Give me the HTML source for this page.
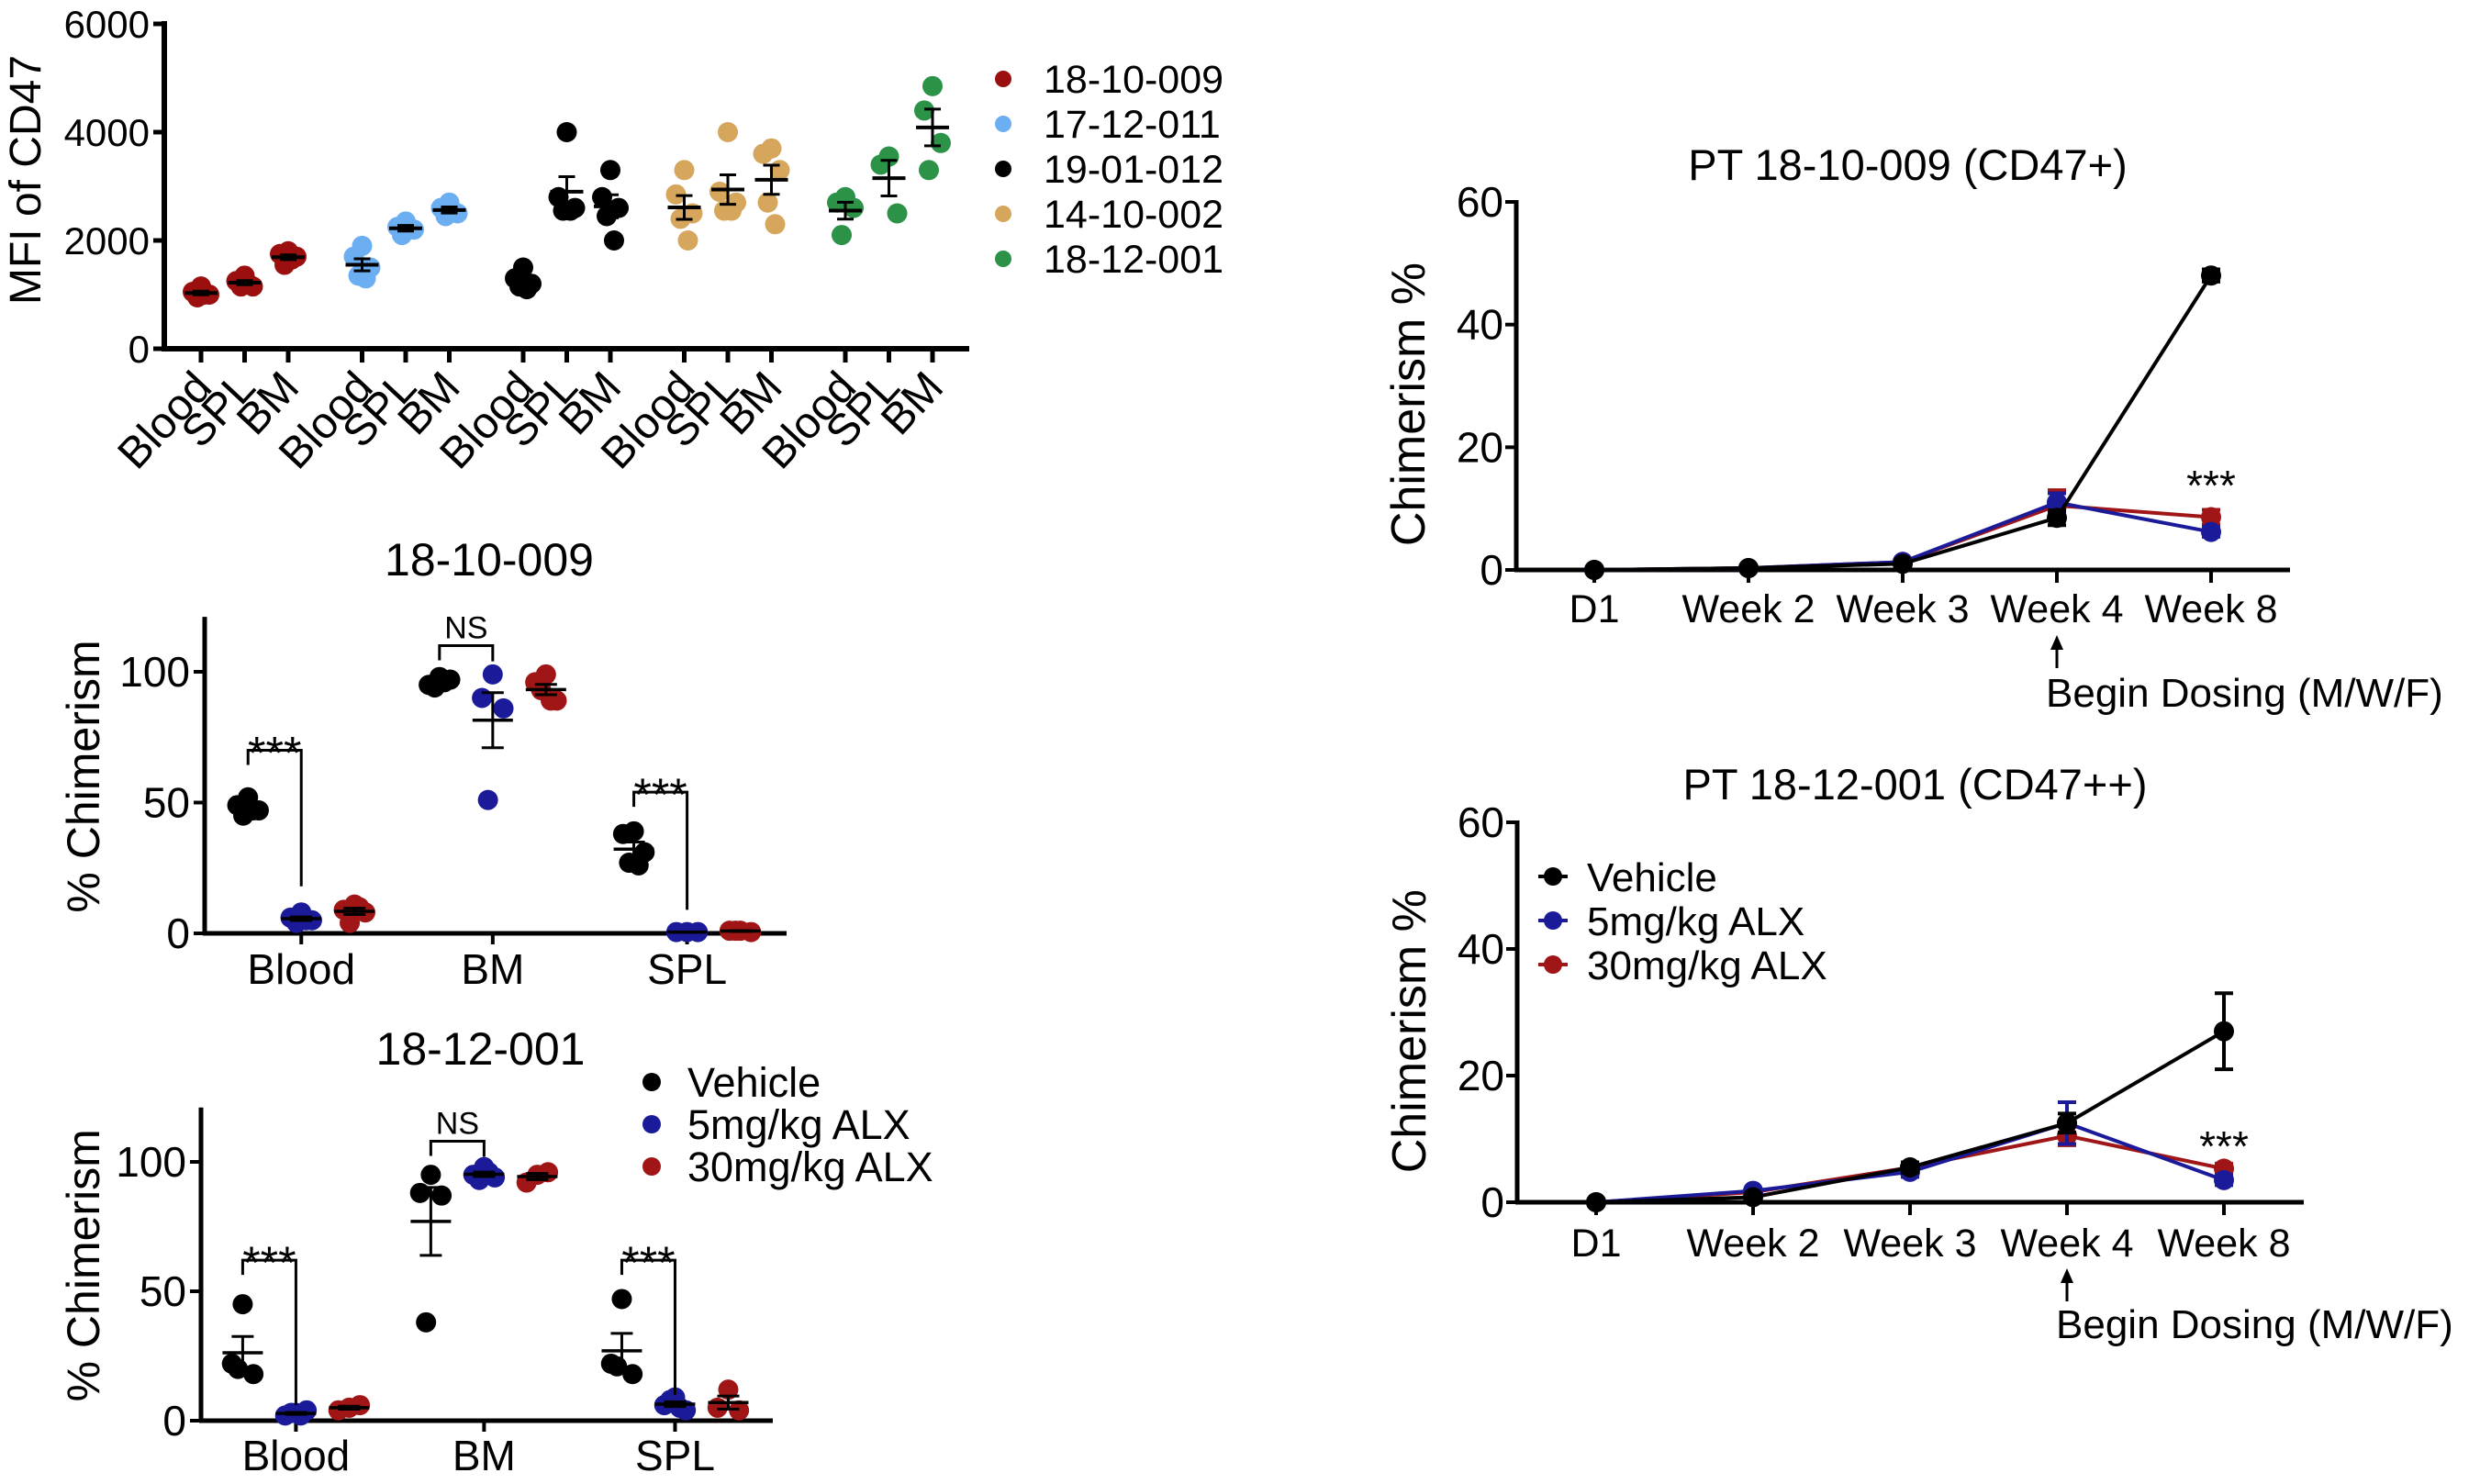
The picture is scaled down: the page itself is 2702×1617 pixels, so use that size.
<!DOCTYPE html>
<html><head><meta charset="utf-8">
<style>
html,body{margin:0;padding:0;background:#fff;}
svg{display:block;font-family:"Liberation Sans",Arial,sans-serif;}
</style></head>
<body>
<svg id="fig" width="2702" height="1617" viewBox="0 0 2702 1617" xmlns="http://www.w3.org/2000/svg">
<rect width="2702" height="1617" fill="#fff"/>
</svg>
<script>
// ===== Panel A: MFI of CD47 =====
const mfiPatients = ["18-10-009","17-12-011","19-01-012","14-10-002","18-12-001"];
const mfiColors = ["#9b0f0f","#6caef2","#000000","#d5a65c","#2b9247"];
const mfiTissues = ["Blood","SPL","BM"];
const mfiTicks = [0,2000,4000,6000];
const mfiRed = [[1150,1050,1000,950,1000],[1350,1250,1150,1150,1200],[1800,1750,1700,1550,1650]];
const mfiBlue = [[1900,1700,1500,1350,1300],[2350,2250,2200,2100],[2700,2600,2500,2450]];
const mfiBlack = [[1500,1300,1200,1150,1100],[4000,2800,2600,2550,2550],[3300,2800,2600,2450,2000]];
const mfiTan = [[3300,2850,2500,2400,2000],[4000,2900,2700,2550,2550],[3700,3600,3300,2700,2300]];
const mfiGreen = [[2800,2700,2600,2100],[3550,3400,2500],[4850,4400,3800,3300]];

// ===== Panel B: 18-10-009 chimerism =====
const chimCats = ["Blood","BM","SPL"];
const chimGroups = ["Vehicle","5mg/kg ALX","30mg/kg ALX"];
const chimColors = ["#000000","#1b1b9a","#a01616"];
const chimTicks = [0,50,100];
const p1Vehicle = [[52,49,47,45,47],[98,95,97,94,96],[39,38,31,27,26]];
const p1Low = [[8,6,5,4,5],[99,90,86,51],[0.5,0.5,0.5]];
const p1High = [[11,9,8,4,10],[99,96,89,93,89],[1,1,0.5,1]];
const p1Sig = [{cat:0,label:"***",y:70,drop:18},{cat:1,label:"NS",y:110,drop:104},{cat:2,label:"***",y:54,drop:9}];

// ===== Panel C: 18-12-001 chimerism =====
const p2Vehicle = [[45,22,18,20],[95,88,87,38],[47,22,18,21]];
const p2Low = [[3,2,4,3,2],[98,95,94,93,96],[9,6,4,8,5]];
const p2High = [[5,4,6],[95,92,96],[12,5,4]];
const p2Sig = [{cat:0,label:"***",y:62,drop:6},{cat:1,label:"NS",y:108,drop:102},{cat:2,label:"***",y:62,drop:10}];

// ===== Panels D/E: time course =====
const timeCats = ["D1","Week 2","Week 3","Week 4","Week 8"];
const timeTicks = [0,20,40,60];
const lineNames = ["Vehicle","5mg/kg ALX","30mg/kg ALX"];
const d1Vehicle = [0,0.3,1.0,8.5,48];
const d1VehicleErr = [0.2,0.2,0.3,1.2,1.0];
const d1Low = [0,0.3,1.3,11,6.2];
const d1LowErr = [0.2,0.2,0.3,1.5,0.8];
const d1High = [0,0.3,1.3,10.5,8.6];
const d1HighErr = [0.2,0.2,0.3,2.5,1.2];
const d2Vehicle = [0,0.8,5.5,12.5,27];
const d2VehicleErr = [0.3,0.3,0.8,1.5,6];
const d2Low = [0,1.8,4.8,12.5,3.5];
const d2LowErr = [0.3,0.4,0.8,3.3,0.8];
const d2High = [0,1.6,5.5,10.5,5.3];
const d2HighErr = [0.3,0.3,0.6,1.5,0.8];

const NS = "http://www.w3.org/2000/svg";
const svg = document.getElementById('fig');
function el(tag, attrs, parent, txt){
  const e = document.createElementNS(NS, tag);
  for (const k in attrs) e.setAttribute(k, attrs[k]);
  if (txt !== undefined) e.textContent = txt;
  (parent||svg).appendChild(e);
  return e;
}
function grp(name){
  const g = document.createElementNS(NS,'g');
  
  
  svg.appendChild(g);
  return g;
}
function mean(a){return a.reduce((s,v)=>s+v,0)/a.length;}
function sem(a){const m=mean(a);if(a.length<2)return 0;const sd=Math.sqrt(a.reduce((s,v)=>s+(v-m)*(v-m),0)/(a.length-1));return sd/Math.sqrt(a.length);}
const jitter = [0,-9,9,-4,4,-12,12];

// ---------- Panel A ----------
(function(){
  const g = grp('mfi-chart');
  const x0=179, x1=1056, yb=380, yt=26;
  const ys = v => yb - v*(yb-yt)/6000;
  const xs = (p,t) => 219 + p*175.5 + t*47.5;
  let ax = el('line',{x1:x0,y1:yt-3,x2:x0,y2:yb,stroke:'#000','stroke-width':6},g);
   
  ax = el('line',{x1:x0-3,y1:yb,x2:x1,y2:yb,stroke:'#000','stroke-width':6},g);
   
  mfiTicks.forEach(v=>{
    el('line',{x1:x0-12,y1:ys(v),x2:x0,y2:ys(v),stroke:'#000','stroke-width':5},g);
    const t = el('text',{x:x0-16,y:ys(v)+15,'text-anchor':'end','font-size':42},g,String(v));
     
  });
  const yl = el('text',{x:0,y:0,transform:'translate(44,196) rotate(-90)','text-anchor':'middle','font-size':48},g,'MFI of CD47');
   
  const all = [mfiRed,mfiBlue,mfiBlack,mfiTan,mfiGreen];
  all.forEach((pat,p)=>{
    pat.forEach((pts,t)=>{
      const cx = xs(p,t);
      el('line',{x1:cx,y1:yb,x2:cx,y2:yb+15,stroke:'#000','stroke-width':5},g);
      const lb = el('text',{x:0,y:0,transform:`translate(${cx+14},${yb+44}) rotate(-47)`,'text-anchor':'end','font-size':48},g,mfiTissues[t]);
       
      pts.forEach((v,i)=>{
        const c = el('circle',{cx:cx+jitter[i%jitter.length],cy:ys(v),r:11,fill:mfiColors[p]},g);
         
      });
      const m=mean(pts), s=sem(pts);
      const mb = el('line',{x1:cx-18,y1:ys(m),x2:cx+18,y2:ys(m),stroke:'#000','stroke-width':4},g);
       
      el('line',{x1:cx,y1:ys(m+s),x2:cx,y2:ys(m-s),stroke:'#000','stroke-width':3},g);
      el('line',{x1:cx-9,y1:ys(m+s),x2:cx+9,y2:ys(m+s),stroke:'#000','stroke-width':3},g);
      el('line',{x1:cx-9,y1:ys(m-s),x2:cx+9,y2:ys(m-s),stroke:'#000','stroke-width':3},g);
    });
  });
  const lg = grp('mfi-legend');
  mfiPatients.forEach((n,i)=>{
    const y = 86 + i*49;
    const c = el('circle',{cx:1093,cy:y,r:9,fill:mfiColors[i]},lg);
     
    const t = el('text',{x:1137,y:y+15,'font-size':43},lg,n);
     
  });
})();

// ---------- Panels B/C ----------
function chimPanel(name, title, titleY, ax0, ax1, yb, unit, series, sig, labY){
  const g = grp(name);
  const ys = v => yb - v*unit;
  const cxs = [ax0 + 0.166*(ax1-ax0), ax0 + 0.5*(ax1-ax0)-0.005*(ax1-ax0), ax0 + 0.829*(ax1-ax0)];
  const off = [-58,0,58];
  const tt = el('text',{x:(ax0+ax1)/2-7,y:titleY,'text-anchor':'middle','font-size':50},g,title);
   
  let a = el('line',{x1:ax0,y1:ys(121),x2:ax0,y2:yb,stroke:'#000','stroke-width':5},g);
   
  a = el('line',{x1:ax0-2,y1:yb,x2:ax1,y2:yb,stroke:'#000','stroke-width':5},g);
   
  chimTicks.forEach(v=>{
    el('line',{x1:ax0-12,y1:ys(v),x2:ax0,y2:ys(v),stroke:'#000','stroke-width':4},g);
    const t = el('text',{x:ax0-16,y:ys(v)+16,'text-anchor':'end','font-size':46},g,String(v));
     
  });
  const yl = el('text',{x:0,y:0,transform:`translate(108,${ys(60)}) rotate(-90)`,'text-anchor':'middle','font-size':50},g,'% Chimerism');
   
  chimCats.forEach((c,ci)=>{
    const cx = cxs[ci];
    el('line',{x1:cx,y1:yb,x2:cx,y2:yb+12,stroke:'#000','stroke-width':4},g);
    const t = el('text',{x:cx,y:labY,'text-anchor':'middle','font-size':46},g,c);
     
    series.forEach((ser,si)=>{
      const pts = ser[ci]; const gx = cx+off[si];
      pts.forEach((v,i)=>{
        const p = el('circle',{cx:gx+jitter[i%jitter.length]*1.3,cy:ys(v),r:11,fill:chimColors[si]},g);
         
      });
      const m=mean(pts), s=sem(pts);
      const mb = el('line',{x1:gx-22,y1:ys(m),x2:gx+22,y2:ys(m),stroke:'#000','stroke-width':3.5},g);
       
      el('line',{x1:gx,y1:ys(m+s),x2:gx,y2:ys(m-s),stroke:'#000','stroke-width':3},g);
      el('line',{x1:gx-12,y1:ys(m+s),x2:gx+12,y2:ys(m+s),stroke:'#000','stroke-width':3},g);
      el('line',{x1:gx-12,y1:ys(m-s),x2:gx+12,y2:ys(m-s),stroke:'#000','stroke-width':3},g);
    });
  });
  sig.forEach(s=>{
    const xa = cxs[s.cat]+off[0], xb = cxs[s.cat]+off[1];
    const y = ys(s.y);
    const b = el('polyline',{points:`${xa},${y+16} ${xa},${y} ${xb},${y} ${xb},${ys(s.drop)}`,fill:'none',stroke:'#000','stroke-width':3},g);
     
    const t = el('text',{x:(xa+xb)/2,y:s.label==='NS'?y-8:y+20,'text-anchor':'middle','font-size':s.label==='NS'?34:50},g,s.label);
     
  });
}
chimPanel('chimerism-18-10-009','18-10-009',627,223,857,1017,2.85,[p1Vehicle,p1Low,p1High],p1Sig,1072);
chimPanel('chimerism-18-12-001','18-12-001',1160,219,842,1548,2.82,[p2Vehicle,p2Low,p2High],p2Sig,1602);
(function(){
  const lg = grp('chimerism-legend');
  chimGroups.forEach((n,i)=>{
    const y = 1179 + i*46;
    const c = el('circle',{cx:710,cy:y,r:10,fill:chimColors[i]},lg);
     
    const t = el('text',{x:749,y:y+16,'font-size':45},lg,n);
     
  });
})();

// ---------- Panels D/E ----------
function linePanel(name,title,titleY,ax0,ax1,yb,yt,catX0,catDX,series,errs,labY,arrowY,beginY,starY,legend){
  const g = grp(name);
  const ys = v => yb - v*(yb-yt)/60;
  const xs = i => catX0 + i*catDX;
  const tt = el('text',{x:(ax0+ax1)/2+5,y:titleY,'text-anchor':'middle','font-size':47},g,title);
   
  let a = el('line',{x1:ax0,y1:yt-2,x2:ax0,y2:yb,stroke:'#000','stroke-width':5},g);
   
  a = el('line',{x1:ax0-2,y1:yb,x2:ax1,y2:yb,stroke:'#000','stroke-width':5},g);
   
  timeTicks.forEach(v=>{
    el('line',{x1:ax0-12,y1:ys(v),x2:ax0,y2:ys(v),stroke:'#000','stroke-width':4},g);
    const t = el('text',{x:ax0-14,y:ys(v)+16,'text-anchor':'end','font-size':46},g,String(v));
     
  });
  const yl = el('text',{x:0,y:0,transform:`translate(${ax0-100},${ys(27)}) rotate(-90)`,'text-anchor':'middle','font-size':52},g,'Chimerism %');
   
  timeCats.forEach((c,i)=>{
    el('line',{x1:xs(i),y1:yb,x2:xs(i),y2:yb+14,stroke:'#000','stroke-width':4},g);
    const t = el('text',{x:xs(i),y:labY,'text-anchor':'middle','font-size':43},g,c);
     
  });
  [2,1,0].forEach(si=>{
    const vals=series[si], er=errs[si], col=chimColors[si];
    const pl = el('polyline',{points:vals.map((v,i)=>`${xs(i)},${ys(v)}`).join(' '),fill:'none',stroke:col,'stroke-width':4},g);
     
    vals.forEach((v,i)=>{
      el('line',{x1:xs(i),y1:ys(v+er[i]),x2:xs(i),y2:ys(v-er[i]),stroke:col,'stroke-width':4},g);
      el('line',{x1:xs(i)-10,y1:ys(v+er[i]),x2:xs(i)+10,y2:ys(v+er[i]),stroke:col,'stroke-width':4},g);
      el('line',{x1:xs(i)-10,y1:ys(v-er[i]),x2:xs(i)+10,y2:ys(v-er[i]),stroke:col,'stroke-width':4},g);
      const c = el('circle',{cx:xs(i),cy:ys(v),r:11,fill:col},g);
       
    });
  });
  const st = el('text',{x:xs(4),y:starY,'text-anchor':'middle','font-size':46},g,'***');
   
  const ar = el('line',{x1:xs(3),y1:arrowY+34,x2:xs(3),y2:arrowY+8,stroke:'#000','stroke-width':3},g);
   
  el('polygon',{points:`${xs(3)-7},${arrowY+14} ${xs(3)+7},${arrowY+14} ${xs(3)},${arrowY-2}`,fill:'#000'},g);
  const bd = el('text',{x:xs(3)-12,y:beginY,'font-size':44},g,'Begin Dosing (M/W/F)');
   
  if (legend){
    lineNames.forEach((n,i)=>{
      const y = 955 + i*48;
      el('line',{x1:1676,y1:y,x2:1708,y2:y,stroke:chimColors[i],'stroke-width':4},g);
      const c = el('circle',{cx:1692,cy:y,r:10,fill:chimColors[i]},g);
       
      const t = el('text',{x:1729,y:y+16,'font-size':44},g,n);
       
    });
  }
}
linePanel('timecourse-18-10-009','PT 18-10-009 (CD47+)',196,1652,2495,621,220,1737,168,[d1Vehicle,d1Low,d1High],[d1VehicleErr,d1LowErr,d1HighErr],678,694,770,545,false);
linePanel('timecourse-18-12-001','PT 18-12-001 (CD47++)',871,1653,2510,1310,896,1739,171,[d2Vehicle,d2Low,d2High],[d2VehicleErr,d2LowErr,d2HighErr],1369,1384,1458,1265,true);
</script>
</body></html>
